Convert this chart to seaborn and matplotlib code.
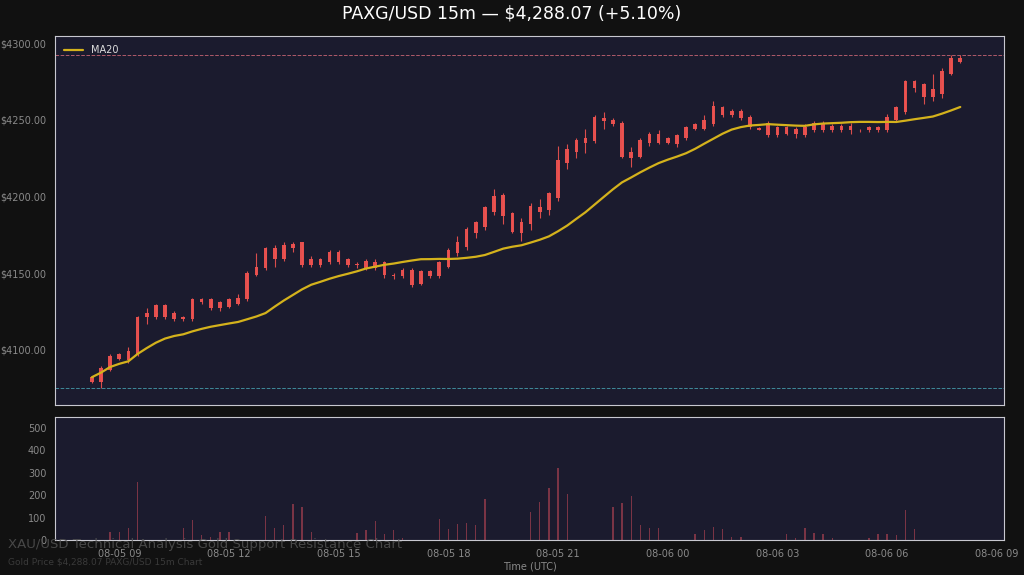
import numpy as np
import pandas as pd
import seaborn as sns
import matplotlib.pyplot as plt
import matplotlib.dates as mdates

# 15m candles, 08-05 08:15 -> 08-06 08:00 (UTC)
body_top = [4082, 4088, 4096, 4097, 4099, 4121, 4124, 4129, 4129, 4124, 4121, 4133,
            4133, 4133, 4131, 4133, 4134, 4150, 4154, 4166, 4166, 4168, 4169, 4170,
            4159, 4159, 4164, 4164, 4159, 4156, 4158, 4157, 4157, 4149, 4152, 4152,
            4151, 4151, 4157, 4165, 4170, 4179, 4183, 4193, 4200, 4201, 4189, 4183,
            4194, 4193, 4202, 4224, 4231, 4237, 4238, 4252, 4251, 4250, 4248, 4229,
            4237, 4241, 4241, 4238, 4240, 4245, 4247, 4250, 4259, 4258, 4256, 4256,
            4252, 4244.5, 4248, 4245, 4245, 4244, 4245, 4248, 4248, 4246, 4246, 4246,
            4243.5, 4245, 4245, 4252, 4258, 4275, 4275, 4273, 4270, 4282, 4290, 4290]
body_bot = [4079, 4079, 4087, 4094, 4093, 4097, 4121, 4121, 4121, 4120, 4120, 4120,
            4131, 4127, 4127, 4128, 4130, 4133, 4149, 4153, 4159, 4159, 4166, 4155,
            4155, 4155, 4157, 4157, 4155, 4155, 4153, 4153, 4149, 4148, 4148, 4142,
            4143, 4148, 4148, 4154, 4163, 4167, 4176, 4180, 4190, 4187, 4177, 4176,
            4182, 4190, 4191, 4199, 4222, 4229, 4235, 4236, 4249, 4247, 4226, 4225,
            4226, 4235, 4235, 4235, 4234, 4238, 4244, 4244, 4247, 4253, 4253, 4251,
            4245, 4243.5, 4240, 4240, 4241, 4241, 4240, 4243, 4243, 4243, 4243, 4243,
            4243, 4243, 4243, 4243, 4250, 4255, 4271, 4265, 4265, 4267, 4280, 4288]
wick_hi = [4083, 4089, 4097, 4098, 4102, 4122, 4127, 4130, 4130, 4125, 4122, 4134,
           4134, 4134, 4132, 4134, 4136, 4151, 4163, 4167, 4168, 4170, 4170, 4170,
           4161, 4160, 4165, 4165, 4160, 4157, 4159, 4159, 4158, 4150, 4153, 4153,
           4152, 4152, 4158, 4166, 4174, 4180, 4184, 4194, 4205, 4202, 4190, 4186,
           4196, 4198, 4203, 4233, 4234, 4238, 4244, 4253, 4255, 4251, 4249, 4232,
           4238, 4242, 4243, 4239, 4241, 4246, 4248, 4253, 4262, 4259, 4257, 4257,
           4253, 4245, 4249, 4246, 4246, 4245, 4247, 4249, 4249, 4247, 4247, 4248,
           4244, 4246, 4246, 4254, 4259, 4276, 4276, 4274, 4280, 4284, 4292, 4292]
wick_lo = [4078, 4075, 4086, 4093, 4091, 4096, 4117, 4120, 4120, 4119, 4119, 4119,
           4130, 4126, 4125, 4127, 4129, 4132, 4148, 4152, 4154, 4158, 4164, 4154,
           4154, 4154, 4156, 4156, 4154, 4153, 4152, 4152, 4147, 4146, 4147, 4141,
           4142, 4147, 4147, 4153, 4161, 4165, 4173, 4178, 4188, 4182, 4176, 4171,
           4178, 4186, 4188, 4197, 4218, 4225, 4228, 4235, 4244, 4246, 4225, 4219,
           4225, 4233, 4234, 4234, 4232, 4237, 4243, 4243, 4246, 4252, 4252, 4250,
           4244, 4243, 4239, 4239, 4240, 4238, 4239, 4242, 4242, 4242, 4242, 4241,
           4242, 4242, 4242, 4242, 4249, 4254, 4268, 4260, 4262, 4264, 4279, 4287]

volume_idx = [2, 3, 4, 5, 10, 11, 12, 13, 14, 15, 19, 20, 21, 22, 23, 24, 29, 30, 31, 32,
              33, 34, 38, 39, 40, 41, 42, 43, 48, 49, 50, 51, 52, 57, 58, 59, 60, 61, 62,
              66, 67, 68, 69, 70, 71, 76, 77, 78, 79, 80, 81, 85, 86, 87, 88, 89, 90]
volume_val = [37, 35, 55, 260, 55, 90, 20, 15, 35, 35, 105, 55, 65, 160, 145, 35, 30, 45,
              85, 25, 45, 10, 95, 50, 70, 75, 65, 185, 125, 170, 230, 320, 205, 145, 165,
              195, 65, 55, 55, 25, 45, 60, 50, 15, 15, 25, 10, 55, 30, 25, 10, 10, 25, 25,
              20, 135, 50]

resistance = 4292.5
support = 4075.0
title = "PAXG/USD 15m — $4,288.07 (+5.10%)"

times = pd.date_range("2025-08-05 08:15", periods=len(body_top), freq="15min")
df = pd.DataFrame({"time": times, "top": body_top, "bot": body_bot,
                   "hi": wick_hi, "lo": wick_lo})
df["close"] = df["top"]
df["MA20"] = df["close"].rolling(20, min_periods=1).mean()
vol = np.zeros(len(df))
vol[volume_idx] = volume_val
df["volume"] = vol

sns.set_style("dark")
bg = "#111111"
panel = "#1b1b2e"
red = "#ef5350"
grey = "#8a8a8a"

fig = plt.figure(figsize=(10.24, 5.75), dpi=100, facecolor=bg)
ax = fig.add_axes([0.054, 0.296, 0.926, 0.641])
axv = fig.add_axes([0.054, 0.061, 0.926, 0.214], sharex=ax)

for a in (ax, axv):
    a.set_facecolor(panel)
    for s in a.spines.values():
        s.set_color("#c8c8d0")
    a.tick_params(colors=grey, labelsize=7, length=3)
    a.grid(False)

w = pd.Timedelta(minutes=6)
ax.vlines(df["time"], df["lo"], df["hi"], color=red, lw=0.8, alpha=0.9)
ax.bar(df["time"], df["top"] - df["bot"], bottom=df["bot"], width=w,
       color=red, alpha=0.95, linewidth=0)
sns.lineplot(data=df, x="time", y="MA20", ax=ax, color="#d4b21c", lw=1.6, label="MA20")
ax.axhline(resistance, color="#b05a6a", ls="--", lw=0.7)
ax.axhline(support, color="#3f8a9a", ls="--", lw=0.7)
ax.set_ylim(4064, 4304.5)
ax.set_yticks([4100, 4150, 4200, 4250, 4300])
ax.yaxis.set_major_formatter(plt.FuncFormatter(lambda v, p: f"${v:.2f}"))
ax.set_xlabel("")
ax.set_ylabel("")
ax.tick_params(labelbottom=False)
leg = ax.legend(loc="upper left", frameon=False, fontsize=7)
for t in leg.get_texts():
    t.set_color("#dddddd")

axv.bar(df["time"], df["volume"], width=pd.Timedelta(minutes=2.2), color="#7a3445", linewidth=0)
axv.set_ylim(0, 550)
axv.set_yticks([0, 100, 200, 300, 400, 500])
axv.set_xlim(pd.Timestamp("2025-08-05 07:15"), pd.Timestamp("2025-08-06 09:11"))
axv.xaxis.set_major_locator(mdates.HourLocator(byhour=range(0, 24, 3)))
axv.xaxis.set_major_formatter(mdates.DateFormatter("%m-%d %H"))
axv.set_xlabel("Time (UTC)", color=grey, fontsize=7, labelpad=2)

fig.suptitle(title, color="white", fontsize=12.5, y=0.992)
fig.text(0.008, 0.047, "XAU/USD Technical Analysis Gold Support Resistance Chart",
         color="#555555", fontsize=9.5, alpha=0.8)
fig.text(0.008, 0.018, "Gold Price $4,288.07 PAXG/USD 15m Chart",
         color="#444444", fontsize=6.5, alpha=0.8)

fig.savefig("out.png", dpi=100, facecolor=bg)
